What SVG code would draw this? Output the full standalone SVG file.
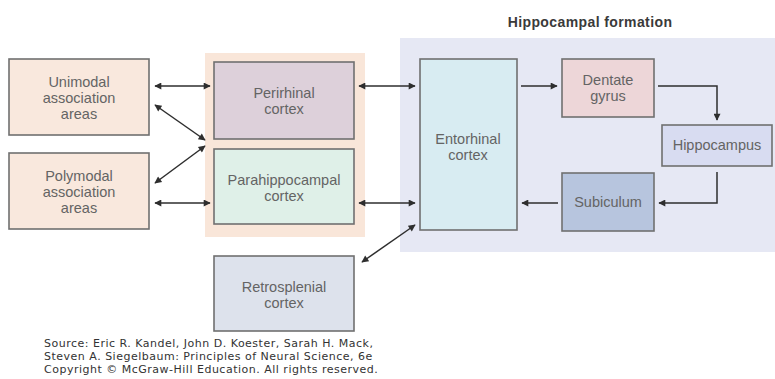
<svg xmlns="http://www.w3.org/2000/svg" width="775" height="379" viewBox="0 0 775 379">
<defs>
<marker id="ah" viewBox="0 0 10 10" refX="9" refY="5" markerWidth="9" markerHeight="7" markerUnits="userSpaceOnUse" orient="auto-start-reverse">
<path d="M0,0 L10,5 L0,10 Z" fill="#2e2e2e"/>
</marker>
</defs>
<style>
.box{stroke:#707070;stroke-width:1.6}
.lbl{font-family:"Liberation Sans",Arial,sans-serif;font-size:14.5px;fill:#646464;text-anchor:middle}
.con{stroke:#2e2e2e;stroke-width:1.5;fill:none}
.src{font-family:"DejaVu Sans",Verdana,sans-serif;font-size:11px;fill:#333;letter-spacing:0.5px}
</style>
<rect width="775" height="379" fill="#ffffff"/>
<g id="bg-parahippocampal-region">
<rect x="205" y="53" width="160" height="184" fill="#f9e6d9"/>
</g>
<g id="hippocampal-formation">
<rect x="400" y="38" width="375" height="214" fill="#e6e8f4"/>
<text x="590" y="27" font-family="'Liberation Sans',Arial,sans-serif" font-size="14" font-weight="bold" fill="#3a3a3a" text-anchor="middle" letter-spacing="0.4">Hippocampal formation</text>
</g>
<g id="unimodal">
<rect class="box" x="9" y="59" width="140" height="76" fill="#f9e8dd"/>
<text class="lbl" x="79" y="87">Unimodal</text>
<text class="lbl" x="79" y="103">association</text>
<text class="lbl" x="79" y="119">areas</text>
</g>
<g id="polymodal">
<rect class="box" x="9" y="153" width="140" height="76" fill="#f9e8dd"/>
<text class="lbl" x="79" y="181">Polymodal</text>
<text class="lbl" x="79" y="197">association</text>
<text class="lbl" x="79" y="213">areas</text>
</g>
<g id="perirhinal">
<rect class="box" x="214" y="62" width="140" height="77" fill="#ddd0da"/>
<text class="lbl" x="284" y="98">Perirhinal</text>
<text class="lbl" x="284" y="114">cortex</text>
</g>
<g id="parahippocampal">
<rect class="box" x="214" y="149" width="140" height="75" fill="#dff0e8"/>
<text class="lbl" x="284" y="185">Parahippocampal</text>
<text class="lbl" x="284" y="201">cortex</text>
</g>
<g id="retrosplenial">
<rect class="box" x="214" y="256" width="140" height="75" fill="#dde2ec"/>
<text class="lbl" x="284" y="292">Retrosplenial</text>
<text class="lbl" x="284" y="308">cortex</text>
</g>
<g id="entorhinal">
<rect class="box" x="420" y="59" width="97" height="171" fill="#d8ecf2"/>
<text class="lbl" x="468" y="144">Entorhinal</text>
<text class="lbl" x="468" y="160">cortex</text>
</g>
<g id="dentate">
<rect class="box" x="562" y="59" width="92" height="58" fill="#edd6d8"/>
<text class="lbl" x="608" y="85">Dentate</text>
<text class="lbl" x="608" y="101">gyrus</text>
</g>
<g id="hippocampus">
<rect class="box" x="662" y="125" width="110" height="41" fill="#d8dcf1"/>
<text class="lbl" x="717" y="150">Hippocampus</text>
</g>
<g id="subiculum">
<rect class="box" x="562" y="173" width="92" height="58" fill="#b7c5de"/>
<text class="lbl" x="608" y="207">Subiculum</text>
</g>
<g id="connectors">
<line class="con" x1="155" y1="86" x2="210" y2="86" marker-start="url(#ah)" marker-end="url(#ah)"/>
<line class="con" x1="155" y1="105" x2="205" y2="140" marker-start="url(#ah)" marker-end="url(#ah)"/>
<line class="con" x1="155" y1="183" x2="205" y2="146" marker-start="url(#ah)" marker-end="url(#ah)"/>
<line class="con" x1="155" y1="203" x2="210" y2="203" marker-start="url(#ah)" marker-end="url(#ah)"/>
<line class="con" x1="359" y1="86" x2="415" y2="86" marker-start="url(#ah)" marker-end="url(#ah)"/>
<line class="con" x1="359" y1="203" x2="415" y2="203" marker-start="url(#ah)" marker-end="url(#ah)"/>
<line class="con" x1="362" y1="262" x2="415" y2="225" marker-start="url(#ah)" marker-end="url(#ah)"/>
<line class="con" x1="521" y1="86" x2="557" y2="86" marker-end="url(#ah)"/>
<polyline class="con" points="658,86 717,86 717,120" marker-end="url(#ah)"/>
<polyline class="con" points="717,172 717,203 659,203" marker-end="url(#ah)"/>
<line class="con" x1="558" y1="203" x2="522" y2="203" marker-end="url(#ah)"/>
</g>
<g id="source">
<text class="src" x="44" y="347">Source: Eric R. Kandel, John D. Koester, Sarah H. Mack,</text>
<text class="src" x="44" y="360">Steven A. Siegelbaum: Principles of Neural Science, 6e</text>
<text class="src" x="44" y="373">Copyright © McGraw-Hill Education. All rights reserved.</text>
</g>
</svg>
